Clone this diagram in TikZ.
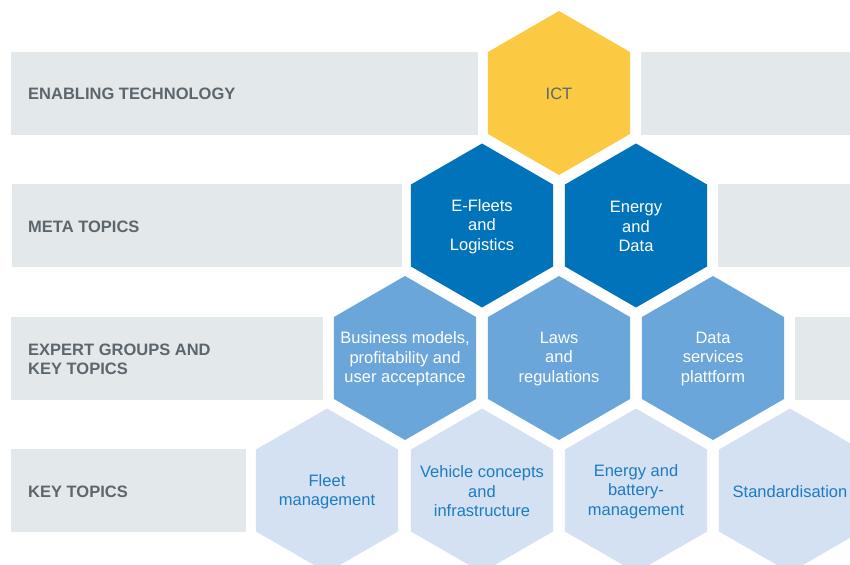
\documentclass[tikz,border=0pt]{standalone}
\usepackage{fontspec}
\setmainfont{Liberation Sans}
\usetikzlibrary{shapes.geometric}
\definecolor{bandgray}{HTML}{E3E8EB}
\definecolor{labelgray}{HTML}{5B676D}
\definecolor{ictyellow}{HTML}{FBC942}
\definecolor{metablue}{HTML}{0073BB}
\definecolor{expertblue}{HTML}{6AA6DA}
\definecolor{keyblue}{HTML}{D4E1F3}
\definecolor{keytext}{HTML}{1C7BC4}

\begin{document}
\begin{tikzpicture}[x=1pt, y=-1pt,
        band/.style={fill=bandgray},
        rowlabel/.style={anchor=west, inner sep=0pt, yshift=-1pt, align=left, text=labelgray, font=\bfseries\fontsize{16.5}{19.3}\selectfont},
        hextext/.style={inner sep=0pt, yshift=-1pt, align=center, font=\fontsize{16.5}{19.5}\selectfont},
        hex/.style 2 args={regular polygon, regular polygon sides=6, shape border rotate=30, minimum size=164pt, inner sep=0pt, outer sep=0pt, label={[hextext, text=#1]center:{#2}}},
        ict/.style={hex={labelgray}{#1}, fill=ictyellow},
        meta/.style={hex={white}{#1}, fill=metablue},
        expert/.style={hex={white}{#1}, fill=expertblue},
        topic/.style={hex={keytext}{#1}, fill=keyblue}]

        \clip (0,0) rectangle (850,564);

        % Bands
        \fill[band] (11,52) rectangle (478,135);
        \fill[band] (641,52) rectangle (850,135);
        \fill[band] (12,184) rectangle (402,267);
        \fill[band] (718,184) rectangle (850,267);
        \fill[band] (11,317) rectangle (323,400);
        \fill[band] (795,317) rectangle (850,400);
        \fill[band] (11,449) rectangle (246,532);

        % Row labels
        \node[rowlabel] (enabling) at (28,93) {ENABLING TECHNOLOGY};
        \node[rowlabel] (metatopics) at (28,225.5) {META TOPICS};
        \node[rowlabel] (expertgroups) at (28,358) {EXPERT GROUPS AND\\KEY TOPICS};
        \node[rowlabel] (keytopics) at (28,490.5) {KEY TOPICS};

        % Enabling technology
        \node[ict={ICT}] (ict) at (559,93) {};

        % Meta topics
        \node[meta={E-Fleets\\and\\Logistics}] (efleets) at (482,225.5) {};
        \node[meta={Energy\\and\\Data}] (energydata) at (636,225.5) {};

        % Expert groups
        \node[expert={Business models,\\profitability and\\user acceptance}] (business) at (405,358) {};
        \node[expert={Laws\\and\\regulations}] (laws) at (559,358) {};
        \node[expert={Data\\services\\plattform}] (dataservices) at (713,358) {};

        % Key topics
        \node[topic={Fleet\\management}] (fleet) at (327,490.5) {};
        \node[topic={Vehicle concepts\\and\\infrastructure}] (vehicle) at (482,490.5) {};
        \node[topic={Energy and\\battery-\\management}] (battery) at (636,490.5) {};
        \node[topic={Standardisation}] (standard) at (790,490.5) {};

    \end{tikzpicture}
\end{document}
